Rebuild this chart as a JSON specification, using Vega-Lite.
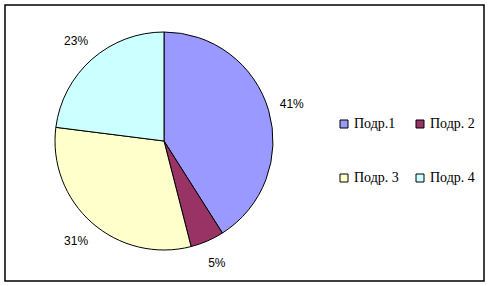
{
  "$schema": "https://vega.github.io/schema/vega-lite/v6.json",
  "width": 490,
  "height": 286,
  "autosize": {"type": "fit", "contains": "padding"},
  "padding": {"left": 5, "top": 5, "right": 6, "bottom": 5},
  "background": "white",
  "view": {"stroke": "black", "strokeWidth": 1.5, "fill": "white"},
  "data": {
    "values": [
      {"part": "Подр.1", "share": 41, "label": "41%"},
      {"part": "Подр. 2", "share": 5, "label": "5%"},
      {"part": "Подр. 3", "share": 31, "label": "31%"},
      {"part": "Подр. 4", "share": 23, "label": "23%"}
    ]
  },
  "encoding": {
    "theta": {"field": "share", "type": "quantitative", "stack": true},
    "order": {"field": "order", "type": "quantitative"}
  },
  "transform": [
    {"window": [{"op": "row_number", "as": "order"}]}
  ],
  "layer": [
    {
      "mark": {"type": "arc", "outerRadius": 109, "x": 159, "y": 136, "stroke": "black", "strokeWidth": 1},
      "encoding": {
        "color": {
          "field": "part",
          "type": "nominal",
          "scale": {
            "domain": ["Подр.1", "Подр. 2", "Подр. 3", "Подр. 4"],
            "range": ["#9999FF", "#993366", "#FFFFCC", "#CCFFFF"]
          },
          "legend": {
            "title": null,
            "orient": "none",
            "direction": "horizontal",
            "legendX": 332,
            "legendY": 112,
            "columns": 2,
            "columnPadding": 14,
            "rowPadding": 40,
            "symbolType": "square",
            "symbolSize": 64,
            "symbolStrokeColor": "black",
            "symbolStrokeWidth": 1,
            "labelFont": "Liberation Serif",
            "labelFontSize": 14,
            "labelColor": "black",
            "labelOffset": 3
          }
        }
      }
    },
    {
      "mark": {"type": "text", "radius": 133, "x": 159, "y": 136, "font": "Liberation Sans", "fontSize": 12, "color": "black", "align": "center", "baseline": "middle"},
      "encoding": {
        "text": {"field": "label", "type": "nominal"}
      }
    }
  ]
}
